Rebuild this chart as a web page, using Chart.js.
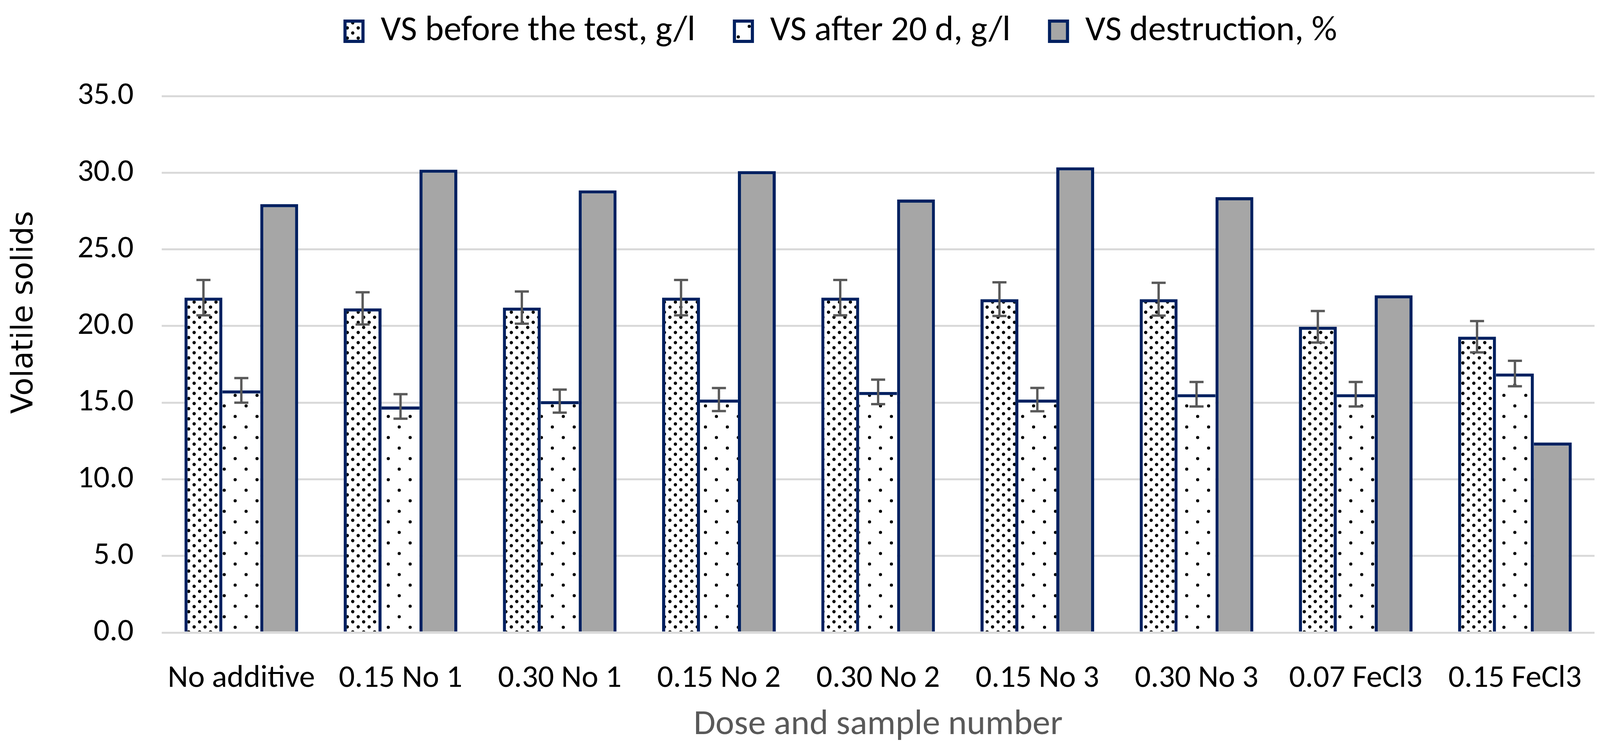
<!DOCTYPE html>
<html>
<head>
<meta charset="utf-8">
<title>Volatile solids</title>
<script src="https://cdn.jsdelivr.net/npm/chart.js@4.4.1/dist/chart.umd.min.js"></script>
<style>
  html, body { margin: 0; padding: 0; background: #ffffff; }
  canvas { display: block; }
</style>
</head>
<body>
<canvas id="vsChart" width="4135" height="1931" style="width:4135px;height:1931px"></canvas>
<script>
// data
const categories = ['No additive', '0.15 No 1', '0.30 No 1', '0.15 No 2', '0.30 No 2', '0.15 No 3', '0.30 No 3', '0.07 FeCl3', '0.15 FeCl3'];
const vsBefore = [21.85, 21.15, 21.2, 21.85, 21.85, 21.75, 21.75, 19.95, 19.3];
const vsBeforeErr = [1.15, 1.05, 1.05, 1.15, 1.15, 1.1, 1.07, 1.03, 1.02];
const vsAfter = [15.8, 14.75, 15.1, 15.2, 15.7, 15.2, 15.55, 15.55, 16.9];
const vsAfterErr = [0.8, 0.8, 0.75, 0.75, 0.8, 0.76, 0.8, 0.8, 0.83];
const vsDestruction = [27.95, 30.2, 28.85, 30.1, 28.25, 30.35, 28.4, 22.0, 12.4];
const seriesLabels = ['VS before the test, g/l', 'VS after 20 d, g/l', 'VS destruction, %'];
const yTicks = [0, 5, 10, 15, 20, 25, 30, 35];

const FONT = 'Carlito, Lato, "Open Sans", sans-serif';
const TITLE_FONT = '"DejaVu Sans", Verdana, sans-serif';
const NAVY = '#002060';
const BORDER_W = 8;
const LEGEND_PAD = 100;
const LEGEND_BOX_H = 52;

// pick font sizes so text widths come out like the original
const measureCtx = document.createElement('canvas').getContext('2d');
function fitSize(text, family, targetWidth) {
    measureCtx.font = `100px ${family}`;
    return Math.round(100 * targetWidth / measureCtx.measureText(text).width);
}
const tickSize = fitSize('No additive', FONT, 379);
const legendSize = fitSize(seriesLabels.join(''), FONT, 808 + 616 + 651);
const xTitleSize = fitSize('Dose and sample number', FONT, 945);
const yTitleSize = fitSize('Volatile solids', TITLE_FONT, 518);

// dotted fills (Excel pattern look)
function dotPattern(dx, dy, r) {
    const tile = document.createElement('canvas');
    tile.width = dx;
    tile.height = dy * 2;
    const t = tile.getContext('2d');
    t.fillStyle = '#ffffff';
    t.fillRect(0, 0, tile.width, tile.height);
    t.fillStyle = '#000000';
    [[dx / 4, dy / 2], [dx * 3 / 4, dy * 1.5]].forEach(([x, y]) => {
        t.beginPath();
        t.arc(x, y, r, 0, Math.PI * 2);
        t.fill();
    });
    return measureCtx.createPattern(tile, 'repeat');
}
const denseDots = dotPattern(28, 13, 4.2);
const sparseDots = dotPattern(56, 27, 4);

// error bars for the two g/l series
const errorBars = {
    id: 'errorBars',
    afterDatasetsDraw(chart) {
        const { ctx, scales: { y } } = chart;
        ctx.save();
        ctx.strokeStyle = '#595959';
        ctx.lineWidth = 6;
        [[0, vsBefore, vsBeforeErr], [1, vsAfter, vsAfterErr]].forEach(([di, vals, errs]) => {
            chart.getDatasetMeta(di).data.forEach((bar, i) => {
                const top = y.getPixelForValue(vals[i] + errs[i]);
                const bot = y.getPixelForValue(vals[i] - errs[i]);
                const half = 18;
                ctx.beginPath();
                ctx.moveTo(bar.x, top); ctx.lineTo(bar.x, bot);
                ctx.moveTo(bar.x - half, top); ctx.lineTo(bar.x + half, top);
                ctx.moveTo(bar.x - half, bot); ctx.lineTo(bar.x + half, bot);
                ctx.stroke();
            });
        });
        ctx.restore();
    }
};

// y title sits above the middle of the axis in the original
const yTitle = {
    id: 'yTitle',
    afterDraw(chart) {
        const { ctx } = chart;
        ctx.save();
        ctx.translate(63, 800);
        ctx.rotate(-Math.PI / 2);
        ctx.font = `${yTitleSize}px ${TITLE_FONT}`;
        ctx.fillStyle = '#000000';
        ctx.textAlign = 'center';
        ctx.textBaseline = 'middle';
        ctx.fillText('Volatile solids', 0, 0);
        ctx.restore();
    }
};

// move the legend row up and a bit right (its padding is only there for the item gaps)
const legendNudge = {
    id: 'legendNudge',
    afterLayout(chart) {
        const lg = chart.legend;
        const itemH = Math.max(legendSize, LEGEND_BOX_H);
        const dx = 2153 - (lg.left + lg.right) / 2;
        const dy = 80 - (lg.top + LEGEND_PAD + itemH / 2);
        lg.left += dx; lg.right += dx;
        lg.top += dy; lg.bottom += dy;
    }
};

const legendH = Math.max(legendSize, LEGEND_BOX_H) + LEGEND_PAD + 10;

new Chart(document.getElementById('vsChart'), {
    type: 'bar',
    data: {
        labels: categories,
        datasets: [
            {
                label: seriesLabels[0],
                data: vsBefore,
                backgroundColor: denseDots,
                borderColor: NAVY,
                borderWidth: { top: BORDER_W, left: BORDER_W, right: BORDER_W, bottom: 0 }
            },
            {
                label: seriesLabels[1],
                data: vsAfter,
                backgroundColor: sparseDots,
                borderColor: NAVY,
                borderWidth: ctx => ({
                    top: BORDER_W, left: 0, bottom: 0,
                    right: vsDestruction[ctx.dataIndex] < vsAfter[ctx.dataIndex] ? BORDER_W : 0
                })
            },
            {
                label: seriesLabels[2],
                data: vsDestruction,
                backgroundColor: '#a6a6a6',
                borderColor: NAVY,
                borderWidth: ctx => ({
                    top: BORDER_W, right: BORDER_W, bottom: 0,
                    left: vsDestruction[ctx.dataIndex] < vsAfter[ctx.dataIndex] ? 0 : BORDER_W
                })
            }
        ]
    },
    options: {
        responsive: false,
        devicePixelRatio: 1,
        animation: false,
        layout: { padding: { top: 246 - legendH, left: 0, right: 53, bottom: 0 } },
        datasets: { bar: { categoryPercentage: 0.714, barPercentage: 1.0 } },
        scales: {
            x: {
                grid: { display: false },
                border: { display: false },
                ticks: {
                    color: '#000000', font: { family: FONT, size: tickSize },
                    padding: 62, autoSkip: false, maxRotation: 0
                },
                title: {
                    display: true, text: 'Dose and sample number', color: '#595959',
                    font: { family: FONT, size: xTitleSize }, padding: { top: 0, bottom: 19 }
                },
                afterFit: s => { s.height = 311; }
            },
            y: {
                min: 0,
                max: 35,
                afterBuildTicks: s => { s.ticks = yTicks.map(v => ({ value: v })); },
                grid: { color: '#d9d9d9', lineWidth: 5, drawTicks: false },
                border: { display: false },
                ticks: {
                    color: '#000000', font: { family: FONT, size: tickSize },
                    padding: 72, callback: v => v.toFixed(1)
                },
                afterFit: s => { s.width = 414; }
            }
        },
        plugins: {
            legend: {
                position: 'top',
                labels: {
                    color: '#000000',
                    font: { family: FONT, size: legendSize },
                    boxWidth: 46,
                    boxHeight: LEGEND_BOX_H,
                    padding: LEGEND_PAD,
                    generateLabels: chart => Chart.defaults.plugins.legend.labels.generateLabels(chart)
                        .map(item => ({ ...item, lineWidth: BORDER_W, strokeStyle: NAVY }))
                }
            },
            tooltip: { enabled: false }
        }
    },
    plugins: [errorBars, yTitle, legendNudge]
});
</script>
</body>
</html>
